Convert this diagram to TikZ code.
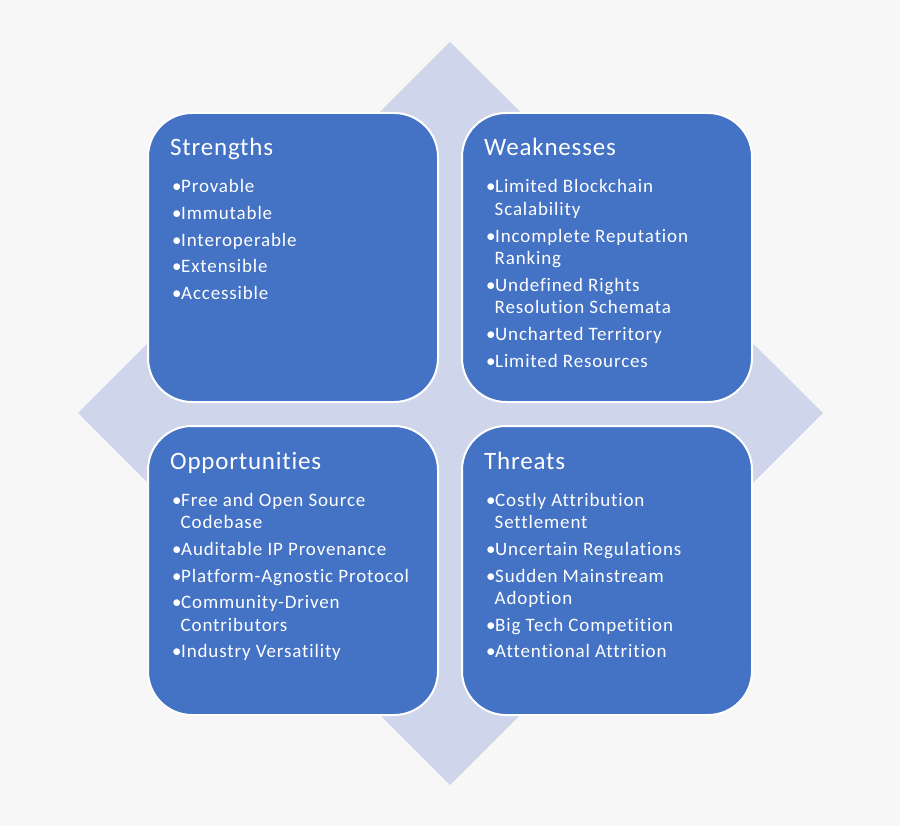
\documentclass[tikz,border=0pt]{standalone}
\usepackage{fontspec}
\setmainfont{Carlito}
\newfontfamily\listfont[LetterSpace=4.5,Ligatures=NoCommon]{Carlito}
\newfontfamily\headfont[LetterSpace=3.2,Ligatures=NoCommon]{Carlito}
\usetikzlibrary{positioning}
\definecolor{bgray}{HTML}{F7F7F7}
\definecolor{lav}{HTML}{CFD5EA}
\definecolor{qblue}{HTML}{4472C4}
\newcommand\bul{\makebox[9pt][l]{•}}
\newcommand\cont{\hspace*{8.5pt}}
\begin{document}
\begin{tikzpicture}[
    x=1pt, y=-1pt,
    quad/.style={rectangle, rounded corners=44pt, fill=qblue, draw=white, line width=2pt,
        minimum width=290pt, minimum height=289pt, inner sep=0pt},
    qtitle/.style={anchor=base west, inner sep=0pt, text=white, font=\headfont\fontsize{25}{30}\selectfont},
    qlist/.style={anchor=north west, inner sep=0pt, text=white, align=left,
        font=\listfont\fontsize{19}{22.6}\selectfont}
]
% background and diamond
\fill[bgray] (0,0) rectangle (900,826);
\useasboundingbox (0,0) rectangle (900,826);
\fill[lav] (450,42) -- (823,413) -- (450,785) -- (78,413) -- cycle;

% four quadrants
\node[quad] (sw) at (293,257.5) {};
\node[quad] (we) at (607,257.5) {};
\node[quad] (op) at (293,570.5) {};
\node[quad] (th) at (607,570.5) {};

% Strengths
\node[qtitle] (swt) at (170,156) {Strengths};
\node[qlist] (swl) at (172,179.5) {\bul Provable\\[4pt]
    \bul Immutable\\[4pt]
    \bul Interoperable\\[4pt]
    \bul Extensible\\[4pt]
    \bul Accessible};

% Weaknesses
\node[qtitle] (wet) at (484,156) {Weaknesses};
\node[qlist] (wel) at (486,179.5) {\bul Limited Blockchain\\
    \cont Scalability\\[4pt]
    \bul Incomplete Reputation\\
    \cont Ranking\\[4pt]
    \bul Undefined Rights\\
    \cont Resolution Schemata\\[4pt]
    \bul Uncharted Territory\\[4pt]
    \bul Limited Resources};

% Opportunities
\node[qtitle] (opt) at (170,469) {Opportunities};
\node[qlist] (opl) at (172,493) {\bul Free and Open Source\\
    \cont Codebase\\[4pt]
    \bul Auditable IP Provenance\\[4pt]
    \bul Platform-Agnostic Protocol\\[4pt]
    \bul Community-Driven\\
    \cont Contributors\\[4pt]
    \bul Industry Versatility};

% Threats
\node[qtitle] (tht) at (484,469) {Threats};
\node[qlist] (thl) at (486,493) {\bul Costly Attribution\\
    \cont Settlement\\[4pt]
    \bul Uncertain Regulations\\[4pt]
    \bul Sudden Mainstream\\
    \cont Adoption\\[4pt]
    \bul Big Tech Competition\\[4pt]
    \bul Attentional Attrition};
\end{tikzpicture}
\end{document}
